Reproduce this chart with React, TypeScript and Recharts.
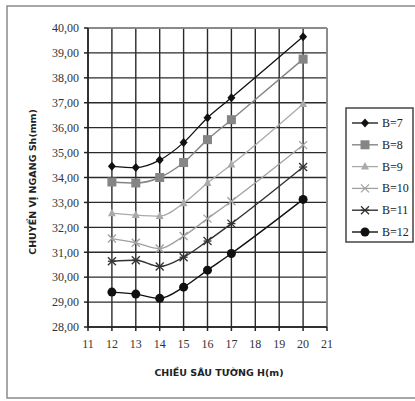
import React from "react";
import {
  LineChart,
  Line,
  XAxis,
  YAxis,
  CartesianGrid,
  ReferenceLine,
  Customized
} from "recharts";

// Wall depth H (m)
const depths = [12, 13, 14, 15, 16, 17, 20];

// Horizontal displacement Sh (mm) per wall width B
const b7 = [34.45, 34.4, 34.7, 35.4, 36.4, 37.2, 39.65];
const b8 = [33.82, 33.78, 34.0, 34.6, 35.52, 36.32, 38.75];
const b9 = [32.57, 32.49, 32.45, 32.97, 33.78, 34.52, 36.95];
const b10 = [31.55, 31.38, 31.15, 31.65, 32.35, 33.05, 35.3];
const b11 = [30.64, 30.68, 30.43, 30.8, 31.45, 32.15, 34.42];
const b12 = [29.4, 29.32, 29.15, 29.6, 30.28, 30.95, 33.12];

const xTicks = [11, 12, 13, 14, 15, 16, 17, 18, 19, 20, 21];
const yTicks = [28, 29, 30, 31, 32, 33, 34, 35, 36, 37, 38, 39, 40];

const data = depths.map((h, i) => ({
  h,
  b7: b7[i],
  b8: b8[i],
  b9: b9[i],
  b10: b10[i],
  b11: b11[i],
  b12: b12[i]
}));

type MarkerKind = "diamond" | "square" | "triangle" | "cross" | "star" | "circle";

const series: { key: string; name: string; color: string; width: number; marker: MarkerKind }[] = [
  { key: "b7", name: "B=7", color: "#111", width: 1.3, marker: "diamond" },
  { key: "b8", name: "B=8", color: "#858585", width: 1.4, marker: "square" },
  { key: "b9", name: "B=9", color: "#aaaaaa", width: 1.3, marker: "triangle" },
  { key: "b10", name: "B=10", color: "#a0a0a0", width: 1.3, marker: "cross" },
  { key: "b11", name: "B=11", color: "#333", width: 1.4, marker: "star" },
  { key: "b12", name: "B=12", color: "#111", width: 1.4, marker: "circle" }
];

function Marker({ kind, cx, cy, color }: { kind: MarkerKind; cx: number; cy: number; color: string }) {
  switch (kind) {
    case "diamond":
      return <polygon points={`${cx},${cy - 4.5} ${cx + 4},${cy} ${cx},${cy + 4.5} ${cx - 4},${cy}`} fill={color} />;
    case "square":
      return <rect x={cx - 4.5} y={cy - 4.5} width={9} height={9} fill={color} />;
    case "triangle":
      return <polygon points={`${cx},${cy - 4.5} ${cx + 4},${cy + 3} ${cx - 4},${cy + 3}`} fill={color} />;
    case "cross":
      return (
        <g stroke={color} strokeWidth={1.3}>
          <line x1={cx - 4} y1={cy - 4} x2={cx + 4} y2={cy + 4} />
          <line x1={cx - 4} y1={cy + 4} x2={cx + 4} y2={cy - 4} />
        </g>
      );
    case "star":
      return (
        <g stroke={color} strokeWidth={1.3}>
          <line x1={cx - 4} y1={cy - 4} x2={cx + 4} y2={cy + 4} />
          <line x1={cx - 4} y1={cy + 4} x2={cx + 4} y2={cy - 4} />
          <line x1={cx - 4} y1={cy} x2={cx + 4} y2={cy} />
        </g>
      );
    default:
      return <circle cx={cx} cy={cy} r={4.5} fill={color} />;
  }
}

const fmt = (v: number) => v.toFixed(2).replace(".", ",");

const tickStyle = { fontFamily: "'Liberation Serif', serif", fontSize: 12, fill: "#333" };
const labelFont = "'DejaVu Sans', Verdana, sans-serif";

// frame, axis titles and legend box
const Decorations = () => (
  <g>
    <rect x={7} y={6} width={412} height={392} fill="none" stroke="#8a8a8a" strokeWidth={1.5} />
    <text
      x={32}
      y={182}
      transform="rotate(-90 32 182)"
      textAnchor="middle"
      dominantBaseline="central"
      fontFamily={labelFont}
      fontWeight="bold"
      fontSize={9.5}
      fill="#222"
    >
      CHUYỂN VỊ NGANG Sh(mm)
    </text>
    <text
      x={219}
      y={372}
      textAnchor="middle"
      dominantBaseline="central"
      fontFamily={labelFont}
      fontWeight="bold"
      fontSize={9.5}
      fill="#222"
    >
      CHIỀU SÂU TƯỜNG H(m)
    </text>
    <rect x={346} y={108} width={67} height={134} fill="#fff" stroke="#444" strokeWidth={1.5} />
    {series.map((s, i) => {
      const y = 123 + i * 21.8;
      return (
        <g key={s.key}>
          <line x1={352} x2={378} y1={y} y2={y} stroke={s.color} strokeWidth={s.width} />
          <Marker kind={s.marker} cx={365} cy={y} color={s.color} />
          <text x={382} y={y} dominantBaseline="central" {...tickStyle} fill="#222">
            {s.name}
          </text>
        </g>
      );
    })}
  </g>
);

export default function App() {
  return (
    <div style={{ position: "absolute", left: 0, top: 0, background: "#fff" }}>
      <LineChart
        width={415}
        height={401}
        data={data}
        margin={{ top: 28, right: 88, left: 38, bottom: 44 }}
      >
        <CartesianGrid stroke="#2a2a2a" strokeWidth={1.4} horizontalValues={yTicks} verticalValues={xTicks} />
        <XAxis
          dataKey="h"
          type="number"
          domain={[11, 21]}
          ticks={xTicks}
          height={30}
          tick={tickStyle}
          tickSize={4}
          tickMargin={8}
          stroke="#222"
          strokeWidth={1.5}
        />
        <YAxis
          type="number"
          domain={[28, 40]}
          ticks={yTicks}
          width={50}
          tick={tickStyle}
          tickSize={4}
          tickMargin={5}
          tickFormatter={fmt}
          stroke="#222"
          strokeWidth={1.5}
        />
        <ReferenceLine y={40} stroke="#999" strokeWidth={1.5} />
        <ReferenceLine x={21} stroke="#999" strokeWidth={1.5} />
        {series.map((s) => (
          <Line
            key={s.key}
            dataKey={s.key}
            name={s.name}
            stroke={s.color}
            strokeWidth={s.width}
            type="monotone"
            isAnimationActive={false}
            dot={(p: any) => <Marker key={`${s.key}-${p.index}`} kind={s.marker} cx={p.cx} cy={p.cy} color={s.color} />}
            activeDot={false}
          />
        ))}
        <Customized component={Decorations} />
      </LineChart>
    </div>
  );
}
